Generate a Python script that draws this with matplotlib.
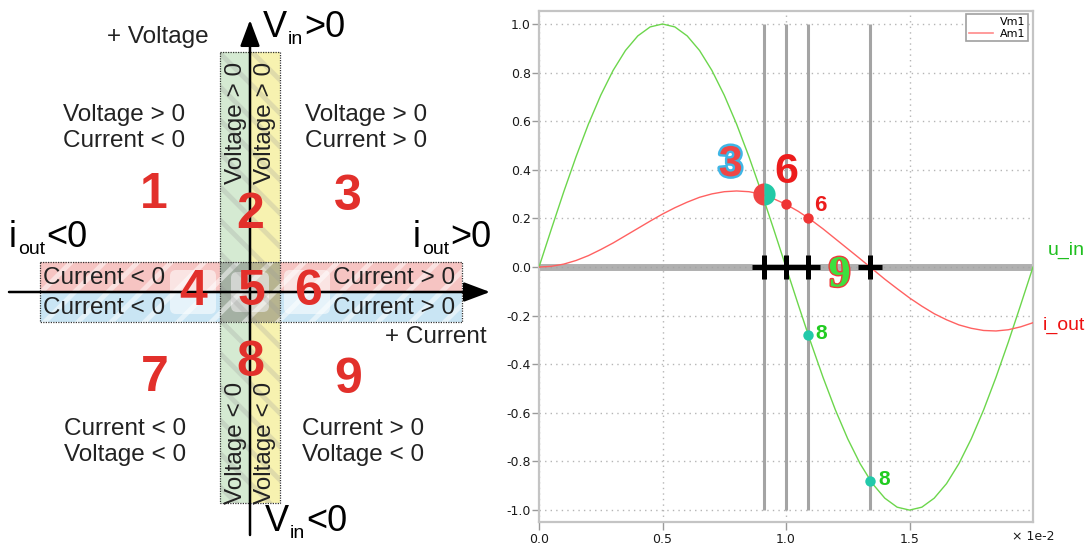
import matplotlib.pyplot as plt
import matplotlib.patheffects as pe
from matplotlib.patches import Rectangle, FancyBboxPatch
from matplotlib.lines import Line2D

plt.rcParams['axes.unicode_minus'] = False
plt.rcParams['hatch.linewidth'] = 3.5

# ---- waveform data (time in units of 1e-2 s) ----
t = [0.0, 0.05, 0.1, 0.15, 0.2, 0.25, 0.3, 0.35, 0.4, 0.45,
     0.5, 0.55, 0.6, 0.65, 0.7, 0.75, 0.8, 0.85, 0.9, 0.95,
     1.0, 1.05, 1.1, 1.15, 1.2, 1.25, 1.3, 1.35, 1.4, 1.45,
     1.5, 1.55, 1.6, 1.65, 1.7, 1.75, 1.8, 1.85, 1.9, 1.95, 2.0]
u_in = [0.0, 0.156, 0.309, 0.454, 0.588, 0.707, 0.809, 0.891, 0.951, 0.988,
        1.0, 0.988, 0.951, 0.891, 0.809, 0.707, 0.588, 0.454, 0.309, 0.156,
        0.0, -0.156, -0.309, -0.454, -0.588, -0.707, -0.809, -0.891, -0.951, -0.988,
        -1.0, -0.988, -0.951, -0.891, -0.809, -0.707, -0.588, -0.454, -0.309, -0.156, 0.0]
i_out = [0.0, 0.003, 0.012, 0.027, 0.047, 0.072, 0.099, 0.129, 0.159, 0.189,
         0.218, 0.244, 0.267, 0.287, 0.301, 0.310, 0.313, 0.310, 0.300, 0.281,
         0.258, 0.229, 0.195, 0.157, 0.116, 0.075, 0.034, -0.008, -0.050, -0.089,
         -0.127, -0.161, -0.192, -0.217, -0.238, -0.252, -0.261, -0.263, -0.258, -0.246, -0.229]
series_names = ['Vm1', 'Am1']
curve_labels = ['u_in', 'i_out']

# cursor positions and marked samples
cursor_t = [0.911, 1.0, 1.088, 1.34]
big_dot = (0.911, 0.30)
red_dot_t = [1.0, 1.088]
red_dot_i = [0.259, 0.20]
teal_dot_t = [1.088, 1.34]
teal_dot_u = [-0.28, -0.88]

yticks = [-1.0, -0.8, -0.6, -0.4, -0.2, 0.0, 0.2, 0.4, 0.6, 0.8, 1.0]
xticks = [0.0, 0.5, 1.0, 1.5]

# ---- quadrant diagram text ----
region_numbers = ['1', '2', '3', '4', '5', '6', '7', '8', '9']
region_xy = [(154, 195), (250, 215), (348, 197), (193, 292), (251, 292),
             (308, 292), (155, 378), (250, 363), (348, 380)]
corner_texts = ['Voltage > 0\nCurrent < 0', 'Voltage > 0\nCurrent > 0',
                'Current < 0\nVoltage < 0', 'Current > 0\nVoltage < 0']
corner_xy = [(124, 128), (366, 128), (125, 442), (363, 442)]
band_texts = ['Current < 0', 'Current < 0', 'Current > 0', 'Current > 0']
band_xy = [(104, 278), (104, 308), (394, 278), (394, 308)]
strip_texts = ['Voltage > 0', 'Voltage > 0', 'Voltage < 0', 'Voltage < 0']
strip_xy = [(236, 123), (265, 123), (236, 443), (265, 443)]
# axis names: main part, subscript, relation, x, baseline
axis_names = [('V', 'in', '>0', 263, 37), ('V', 'in', '<0', 265, 531),
              ('i', 'out', '<0', 9, 247), ('i', 'out', '>0', 413, 247)]

RED = '#e2302b'
SANS = 'Liberation Sans'
INK = '#222222'

fig = plt.figure(figsize=(10.92, 5.44), dpi=100)
renderer = fig.canvas.get_renderer()

# ================= left: quadrant diagram =================
dia = fig.add_axes([0, 0, 500 / 1092, 1])
dia.set_xlim(0, 500)
dia.set_ylim(544, 0)
dia.axis('off')

# coloured bands
dia.add_patch(Rectangle((40, 262), 180, 30, fc='#f6c4c2', ec='none'))
dia.add_patch(Rectangle((280, 262), 182, 30, fc='#f6c4c2', ec='none'))
dia.add_patch(Rectangle((40, 292), 180, 30, fc='#c9e5f4', ec='none'))
dia.add_patch(Rectangle((280, 292), 182, 30, fc='#c9e5f4', ec='none'))
dia.add_patch(Rectangle((220, 52), 30, 451, fc='#d5ead2', ec='none'))
dia.add_patch(Rectangle((250, 52), 30, 451, fc='#f7f2b0', ec='none'))
dia.add_patch(Rectangle((220, 262), 60, 60, fc='#6a6a6a', alpha=0.45, ec='none'))
for x0 in (170, 284):
    dia.add_patch(FancyBboxPatch((x0, 270), 46, 44, boxstyle='round,pad=0,rounding_size=6',
                                 fc='white', ec='none', alpha=0.55))
dia.add_patch(FancyBboxPatch((231, 272), 38, 40, boxstyle='round,pad=0,rounding_size=6',
                             fc='#e6e6e6', ec='none', alpha=0.7))
# diagonal stripes
dia.add_patch(Rectangle((40, 262), 422, 60, fc='none', ec=(1, 1, 1, 0.5), lw=0, hatch='/'))
dia.add_patch(Rectangle((220, 52), 60, 451, fc='none', ec=(0.6, 0.6, 0.6, 0.25), lw=0, hatch='\\'))
# dotted borders
dia.add_patch(Rectangle((40, 262), 422, 60, fc='none', ec='#333333', lw=0.9, ls=(0, (1, 1))))
dia.add_patch(Rectangle((220, 52), 60, 451, fc='none', ec='#333333', lw=0.9, ls=(0, (1, 1))))

# axes arrows
arrow = dict(arrowstyle='-|>,head_length=0.8,head_width=0.3', color='black', lw=1.8,
             shrinkA=0, shrinkB=0, mutation_scale=20)
dia.annotate('', xy=(490, 292), xytext=(9, 292), arrowprops=arrow)
dia.annotate('', xy=(250, 20), xytext=(250, 535), arrowprops=arrow)

# axis names with small subscripts (1 data unit == 1 pixel here)
for main, sub, rel, x, y in axis_names:
    cur = x
    for s, size, dy in ((main, 26, 0), (sub, 14, 7), (rel, 26, 0)):
        tx = dia.text(cur, y + dy, s, fontsize=size, family=SANS, ha='left', va='baseline')
        cur += tx.get_window_extent(renderer).width + 1

dia.text(158, 37, '+ Voltage', fontsize=17.5, family=SANS, ha='center', va='center', color=INK)
dia.text(436, 337, '+ Current', fontsize=17.5, family=SANS, ha='center', va='center', color=INK)

for txt, (x, y) in zip(corner_texts, corner_xy):
    dia.text(x, y, txt, fontsize=17.5, family=SANS, ha='center', va='center',
             linespacing=1.28, color=INK)
for txt, (x, y) in zip(band_texts, band_xy):
    dia.text(x, y, txt, fontsize=17.5, family=SANS, ha='center', va='center', color=INK)
for txt, (x, y) in zip(strip_texts, strip_xy):
    dia.text(x, y, txt, fontsize=17.5, family=SANS, rotation=90, ha='center', va='center',
             color=INK)

for num, (x, y) in zip(region_numbers, region_xy):
    dia.text(x, y, num, fontsize=36, family=SANS, weight='bold', color=RED,
             ha='center', va='center')

# ================= right: waveform plot =================
ax = fig.add_axes([539 / 1092, 22 / 544, 494 / 1092, 511 / 544])
ax.set_xlim(0, 2.0)
ax.set_ylim(-1.049, 1.0535)
ax.set_yticks(yticks)
ax.set_yticklabels([f'{v:.1f}' for v in yticks])
ax.set_xticks(xticks)
ax.set_xticklabels([f'{v:.1f}' for v in xticks])
ax.grid(True, ls=(0, (1, 3)), color='#b5b5b5', lw=1)
ax.set_axisbelow(True)
for sp in ax.spines.values():
    sp.set_color('#c4c4c4')
    sp.set_linewidth(1.6)
ax.tick_params(axis='y', length=5, width=1, color='#9a9a9a', labelsize=9, pad=1,
               labelcolor='#1a1a1a')
ax.tick_params(axis='x', length=6, width=1, color='#9a9a9a', labelsize=9, pad=2,
               labelcolor='#1a1a1a')

ax.axhline(0, color='#a2a2a2', lw=5, alpha=0.85, zorder=1.5)
ax.vlines(cursor_t, -1.0, 1.0, color='#a4a4a4', lw=2.2, zorder=2)

ax.plot(t, u_in, color='#6cd64c', lw=1, zorder=3)
ax.plot(t, i_out, color='#ff6161', lw=1, zorder=3)

ax.plot(cursor_t, [0] * len(cursor_t), '+', ms=17, mew=3.6, color='black', zorder=4)

ax.plot(*big_dot, 'o', ms=16, fillstyle='left', mfc='#ef4343',
        markerfacecoloralt='#22c9a6', mec='none', zorder=5)
ax.plot(red_dot_t, red_dot_i, 'o', ms=7.5, color='#ef3535', mec='none', zorder=5)
ax.plot(teal_dot_t, teal_dot_u, 'o', ms=7.5, color='#22c9aa', mec='none', zorder=5)

# region labels on the plot
ax.annotate('3', big_dot, xytext=(-24, 21), textcoords='offset points',
            fontsize=31, family=SANS, weight='bold', color='#ef4646',
            ha='center', va='center', zorder=6,
            path_effects=[pe.withStroke(linewidth=3.5, foreground='#3fb6e6')])
ax.annotate('6', (red_dot_t[0], red_dot_i[0]), xytext=(0, 23), textcoords='offset points',
            fontsize=31, family=SANS, weight='bold', color='#ec1c1c',
            ha='center', va='center', zorder=6)
ax.annotate('6', (red_dot_t[1], red_dot_i[1]), xytext=(9, 9), textcoords='offset points',
            fontsize=16, family=SANS, weight='bold', color='#ec1c1c',
            ha='center', va='center', zorder=6)
ax.annotate('9', (cursor_t[2], 0), xytext=(23, -6), textcoords='offset points',
            fontsize=32, family='Liberation Serif', weight='bold', color='#3ee03e',
            ha='center', va='center', zorder=6,
            path_effects=[pe.withStroke(linewidth=2, foreground='#ee3b3b')])
for tx, ux in zip(teal_dot_t, teal_dot_u):
    ax.annotate('8', (tx, ux), xytext=(10, 1), textcoords='offset points',
                fontsize=15, family=SANS, weight='bold', color='#22cc22',
                ha='center', va='center', zorder=6)

ax.annotate(curve_labels[0], (t[-1], u_in[-1]), xytext=(24, 12), textcoords='offset points',
            fontsize=14, family=SANS, color='#1fbf1f', ha='center', va='center',
            annotation_clip=False)
ax.annotate(curve_labels[1], (t[-1], i_out[-1]), xytext=(22, -2), textcoords='offset points',
            fontsize=14, family=SANS, color='#ee1111', ha='center', va='center',
            annotation_clip=False)

handles = [Line2D([], [], color='white', lw=1.2), Line2D([], [], color='#ff8a8a', lw=1.2)]
leg = ax.legend(handles, series_names, loc='upper right', bbox_to_anchor=(0.99, 0.994),
                fontsize=8, frameon=True, fancybox=False, edgecolor='#a0a0a0', framealpha=1,
                borderpad=0.25, labelspacing=0.15, handlelength=2.2, handletextpad=0.6,
                borderaxespad=0)
leg.get_frame().set_linewidth(1.2)

fig.text(1033 / 1092, 1 - 537 / 544, '× 1e-2', fontsize=9, ha='center', va='center',
         color='#1a1a1a')

fig.savefig('out.png', dpi=100)
